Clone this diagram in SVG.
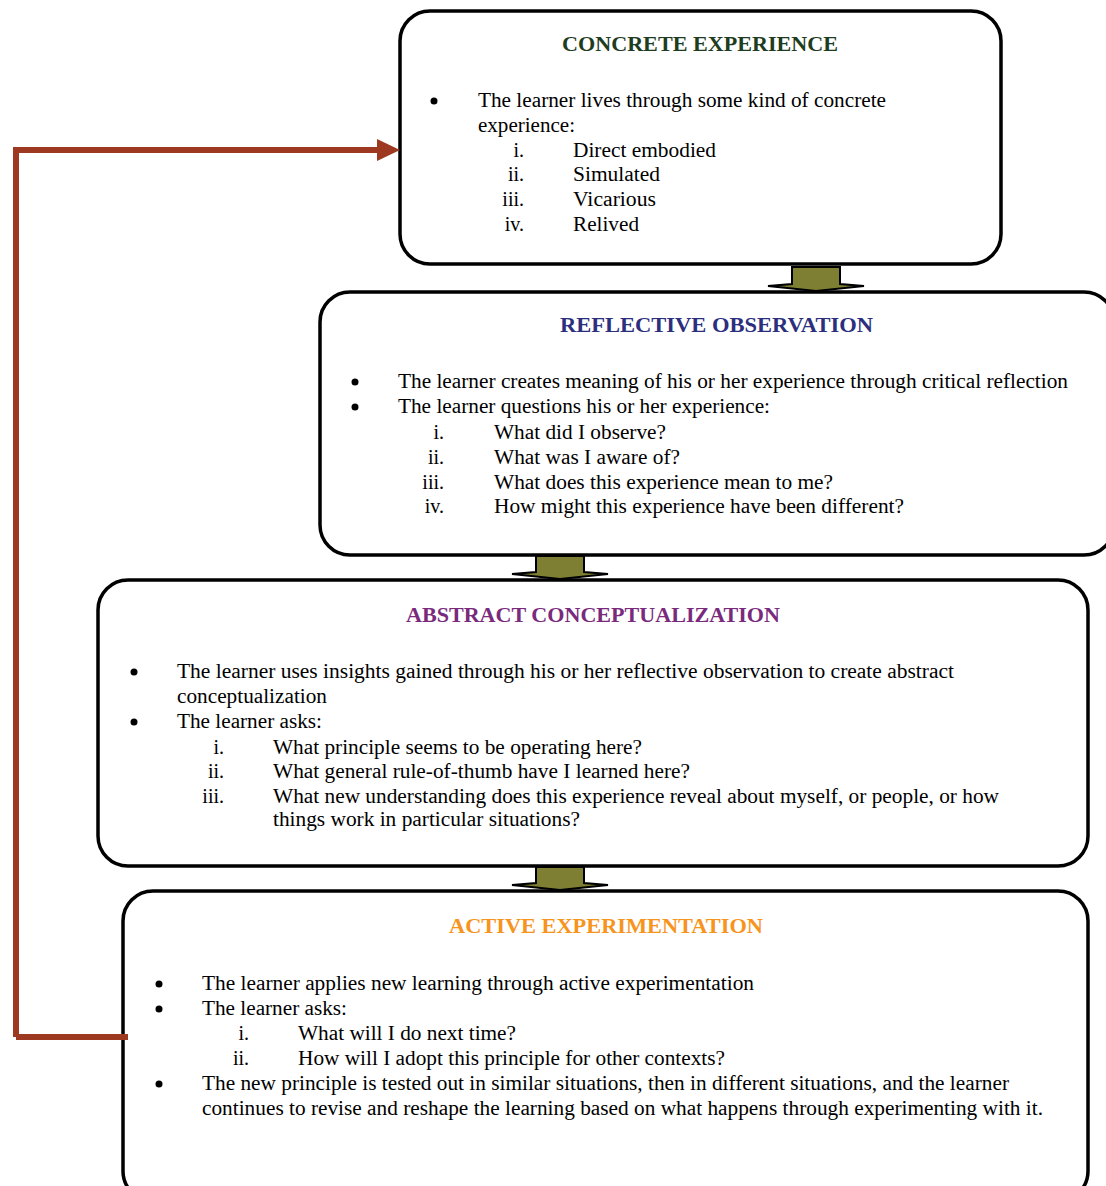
<svg xmlns="http://www.w3.org/2000/svg" width="1106" height="1186" viewBox="0 0 1106 1186">
<style>
.box{fill:#fff;stroke:#000;stroke-width:3.5}
.t{font-family:"Liberation Serif","Times New Roman",serif;font-size:20px;fill:#000}
.n{text-anchor:end}
.h{font-family:"Liberation Serif","Times New Roman",serif;font-size:21px;font-weight:bold}
.blk{fill:#7f7f33;stroke:#000;stroke-width:2}
.red{fill:none;stroke:#9e3921;stroke-width:6}
</style>
<g id="concrete-experience">
<rect class="box" x="400" y="11" width="601" height="253" rx="30"/>
<text class="h" x="562" y="51" fill="#1e3c1e" textLength="276" lengthAdjust="spacingAndGlyphs">CONCRETE EXPERIENCE</text>
<circle cx="434" cy="101" r="3.5"/>
<text class="t" x="478" y="107" textLength="408" lengthAdjust="spacingAndGlyphs">The learner lives through some kind of concrete</text>
<text class="t" x="478" y="132" textLength="97" lengthAdjust="spacingAndGlyphs">experience:</text>
<text class="t n" x="524" y="157">i.</text><text class="t" x="573" y="157" textLength="143" lengthAdjust="spacingAndGlyphs">Direct embodied</text>
<text class="t n" x="524" y="181">ii.</text><text class="t" x="573" y="181" textLength="87" lengthAdjust="spacingAndGlyphs">Simulated</text>
<text class="t n" x="524" y="206">iii.</text><text class="t" x="573" y="206" textLength="83" lengthAdjust="spacingAndGlyphs">Vicarious</text>
<text class="t n" x="524" y="231">iv.</text><text class="t" x="573" y="231" textLength="66" lengthAdjust="spacingAndGlyphs">Relived</text>
</g>
<g id="reflective-observation">
<rect class="box" x="320" y="292" width="794" height="263" rx="30"/>
<text class="h" x="560" y="332" fill="#2c2f7e" textLength="313" lengthAdjust="spacingAndGlyphs">REFLECTIVE OBSERVATION</text>
<circle cx="355" cy="382" r="3.5"/>
<circle cx="355" cy="407" r="3.5"/>
<text class="t" x="398" y="388" textLength="670" lengthAdjust="spacingAndGlyphs">The learner creates meaning of his or her experience through critical reflection</text>
<text class="t" x="398" y="413" textLength="372" lengthAdjust="spacingAndGlyphs">The learner questions his or her experience:</text>
<text class="t n" x="444" y="439">i.</text><text class="t" x="494" y="439" textLength="172" lengthAdjust="spacingAndGlyphs">What did I observe?</text>
<text class="t n" x="444" y="464">ii.</text><text class="t" x="494" y="464" textLength="186" lengthAdjust="spacingAndGlyphs">What was I aware of?</text>
<text class="t n" x="444" y="489">iii.</text><text class="t" x="494" y="489" textLength="339" lengthAdjust="spacingAndGlyphs">What does this experience mean to me?</text>
<text class="t n" x="444" y="513">iv.</text><text class="t" x="494" y="513" textLength="410" lengthAdjust="spacingAndGlyphs">How might this experience have been different?</text>
</g>
<g id="abstract-conceptualization">
<rect class="box" x="98" y="580" width="990" height="286" rx="30"/>
<text class="h" x="406" y="622" fill="#7a2a7d" textLength="374" lengthAdjust="spacingAndGlyphs">ABSTRACT CONCEPTUALIZATION</text>
<circle cx="134" cy="672" r="3.5"/>
<circle cx="134" cy="722" r="3.5"/>
<text class="t" x="177" y="678" textLength="777" lengthAdjust="spacingAndGlyphs">The learner uses insights gained through his or her reflective observation  to create abstract</text>
<text class="t" x="177" y="703" textLength="150" lengthAdjust="spacingAndGlyphs">conceptualization</text>
<text class="t" x="177" y="728" textLength="145" lengthAdjust="spacingAndGlyphs">The learner asks:</text>
<text class="t n" x="224" y="754">i.</text><text class="t" x="273" y="754" textLength="369" lengthAdjust="spacingAndGlyphs">What principle seems to be operating here?</text>
<text class="t n" x="224" y="778">ii.</text><text class="t" x="273" y="778" textLength="417" lengthAdjust="spacingAndGlyphs">What general rule-of-thumb have I learned here?</text>
<text class="t n" x="224" y="803">iii.</text><text class="t" x="273" y="803" textLength="726" lengthAdjust="spacingAndGlyphs">What new understanding does this experience reveal about myself, or people, or how</text>
<text class="t" x="273" y="826" textLength="307" lengthAdjust="spacingAndGlyphs">things work in particular situations?</text>
</g>
<g id="active-experimentation">
<rect class="box" x="123" y="891" width="965" height="310" rx="30"/>
<text class="h" x="449" y="933" fill="#f7941d" textLength="314" lengthAdjust="spacingAndGlyphs">ACTIVE EXPERIMENTATION</text>
<circle cx="159" cy="984" r="3.5"/>
<circle cx="159" cy="1009" r="3.5"/>
<circle cx="159" cy="1084" r="3.5"/>
<text class="t" x="202" y="990" textLength="552" lengthAdjust="spacingAndGlyphs">The learner applies new learning through active experimentation</text>
<text class="t" x="202" y="1015" textLength="145" lengthAdjust="spacingAndGlyphs">The learner asks:</text>
<text class="t n" x="249" y="1040">i.</text><text class="t" x="298" y="1040" textLength="218" lengthAdjust="spacingAndGlyphs">What will I do next time?</text>
<text class="t n" x="249" y="1065">ii.</text><text class="t" x="298" y="1065" textLength="427" lengthAdjust="spacingAndGlyphs">How will I adopt this principle for other contexts?</text>
<text class="t" x="202" y="1090" textLength="807" lengthAdjust="spacingAndGlyphs">The new principle is tested out in similar situations, then in different situations, and the learner</text>
<text class="t" x="202" y="1115" textLength="841" lengthAdjust="spacingAndGlyphs">continues to revise and reshape the learning based on what happens through experimenting with it.</text>
</g>
<g id="connectors">
<path class="red" d="M16,1037 V150 H378"/>
<path d="M377,139 L400,150 L377,161 Z" fill="#9e3921"/>
<path class="red" d="M16,1037 H128"/>
<path class="blk" d="M792,267 H840 V284 L864,286 L816,291 L768,286 L792,284 Z"/>
<path class="blk" d="M536,556 H584 V572 L608,574 L560,579 L512,574 L536,572 Z"/>
<path class="blk" d="M536,867 H584 V883 L608,885 L560,890 L512,885 L536,883 Z"/>
</g>
</svg>
